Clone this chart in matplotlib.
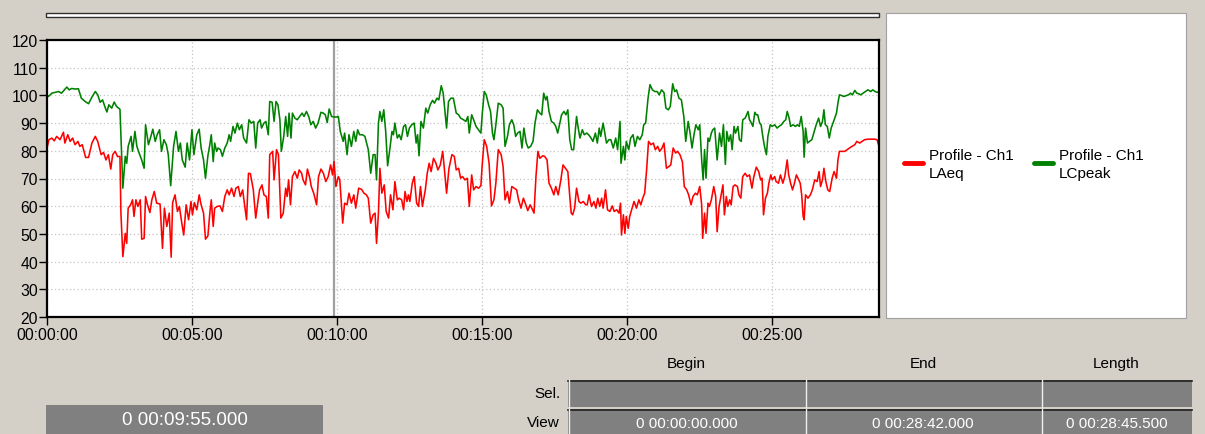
import matplotlib
matplotlib.use('Agg')
import matplotlib.pyplot as plt
from matplotlib.patches import Rectangle
from matplotlib.lines import Line2D

plt.rcParams['font.family'] = ['Liberation Sans', 'DejaVu Sans']

# ---------------- data ----------------
x_ticks_s = [0, 300, 600, 900, 1200, 1500]
x_tick_labels = ['00:00:00', '00:05:00', '00:10:00', '00:15:00', '00:20:00', '00:25:00']
y_ticks = [20, 30, 40, 50, 60, 70, 80, 90, 100, 110, 120]
view_end_s = 1722
cursor_s = 595

series_names = ['Profile - Ch1\nLAeq', 'Profile - Ch1\nLCpeak']

lcpeak_t = [0, 3, 10, 17, 24, 30, 36, 41, 46, 51, 58, 65, 71, 79, 86, 93, 100, 105, 110, 115, 120, 124, 128, 134, 139, 144,
            151, 155, 157, 162, 165, 168, 174, 177, 182, 186, 191, 196, 201, 204, 210, 215, 219, 224, 228, 233, 237, 242, 247,
            251, 256, 262, 267, 272, 276, 280, 286, 290, 295, 300, 304, 310, 315, 319, 324, 328, 333,
            337, 340, 344, 347, 351, 354, 359, 363, 368, 373, 377, 380, 385, 389, 394, 398, 403, 407, 413, 418, 423, 428, 432,
            436, 441, 444, 449, 453, 458, 461, 466, 470, 474, 478, 482, 485, 490, 494, 498, 501, 505, 508, 513, 518, 523, 528,
            532, 537, 542, 546, 551, 556, 561, 567, 572, 576, 580, 584, 589, 594, 599, 603, 607, 613, 616, 621, 625, 630, 635,
            639, 643, 647, 653, 658, 665, 670, 675,
            679, 682, 686, 689, 693, 697, 701, 705, 709, 714, 717, 720, 725, 729, 733, 738, 742, 746, 750, 755, 760, 764, 767,
            770, 774, 779, 784, 788, 793, 798, 802, 807, 811, 816, 820, 824, 827, 831, 836, 841, 847, 852, 856, 862, 867, 871,
            874, 879, 883, 888, 893, 898, 901, 905, 909, 914, 918, 922, 925, 929, 934, 940, 944, 948, 953, 957, 962, 966, 970,
            974, 979, 983, 987, 992, 996, 1001, 1006, 1010, 1015,
            1020, 1024, 1028, 1032, 1035, 1039, 1044, 1049, 1053, 1057, 1060, 1065, 1070, 1074, 1078, 1082, 1086, 1090, 1096,
            1099, 1103, 1108, 1112, 1117, 1121, 1126, 1130, 1135, 1139, 1143, 1146, 1151, 1155, 1158, 1163, 1167, 1172, 1177,
            1181, 1186, 1188, 1193, 1196, 1199, 1204, 1208, 1213, 1217, 1222, 1227, 1232, 1235, 1239, 1244, 1248, 1253, 1258,
            1263, 1267, 1272, 1277, 1281, 1286, 1290, 1295, 1299, 1303, 1308, 1313, 1318, 1322, 1327, 1331, 1335, 1339, 1343,
            1348, 1351, 1355, 1358,
            1361, 1364, 1368, 1371, 1375, 1378, 1382, 1387, 1392, 1396, 1400, 1404, 1407, 1411, 1415, 1418, 1422, 1425, 1430,
            1433, 1437, 1440, 1445, 1451, 1454, 1458, 1461, 1465, 1468, 1471, 1475, 1478, 1482, 1485, 1489, 1492, 1497, 1501,
            1506, 1511, 1515, 1520, 1525, 1529, 1532, 1536, 1539, 1544, 1549, 1553, 1557, 1561, 1565, 1567, 1570, 1574, 1578,
            1583, 1587, 1592, 1597, 1601, 1605, 1608, 1611, 1615, 1619, 1623, 1628, 1634, 1637, 1640, 1644, 1649, 1654, 1659,
            1663, 1667, 1672, 1676, 1680, 1684, 1689, 1694, 1699, 1705, 1709, 1714, 1718, 1721]
lcpeak_db = [100.2, 99.6, 100.8, 101.1, 101.4, 100.8, 102, 103, 102, 102.5, 102.3, 102.4, 99, 97.8, 97, 99.4, 101.4, 100.2,
             97.5, 98.4, 95.8, 94, 96.6, 95.4, 97.6, 96, 95, 76.7, 66.5, 78, 75.5, 81.6, 85.2, 79.8, 87, 81.6, 79, 76.7, 73.7,
             89.4, 82.2, 85.2, 87.8, 83.4, 85.8, 87.6, 79.8, 84, 82.2, 78.6, 67.4, 81.6, 87, 79.8, 82.8, 76.7, 74.1, 82.8, 76.7,
             87.6, 78.6, 85.8, 87.8, 81, 76.7, 70.1, 78.2,
             82.2, 85.8, 76.1, 82.8, 79.8, 81, 80.4, 78, 81, 82.8, 85.8, 83.4, 88.8, 86.4, 90, 87.6, 89.4, 84.6, 82.8, 91.2, 90,
             90.6, 81, 90, 91.2, 88.2, 90, 90.6, 85.8, 97.8, 97.5, 90.6, 97.8, 96.6, 91.2, 79.8, 85.2, 92.4, 85.2, 93.6, 84.6,
             93.6, 91.8, 91.2, 92.4, 93.6, 92.4, 94.2, 92.2, 89.4, 90.6, 88.2, 90, 93.9, 93.6, 93, 90.2, 95.1, 92.4, 92.2, 92.2,
             92.4, 87, 83.4, 86.4, 78.6, 85.8, 81.6, 87, 83.4, 87.6, 85.8, 85.8, 85.2, 80.4, 71.9, 78.6,
             78.6, 69.5, 90, 94.2, 90.6, 94.8, 87, 74.6, 79.8, 87, 85.8, 90, 84.6, 85.8, 84, 88.8, 89.4, 85.2, 88.2, 89.4, 90,
             82.8, 85.8, 78.2, 90.6, 88.2, 95.4, 93.6, 96.6, 98.2, 97.2, 99, 98.4, 103.5, 100.8, 93.6, 88.2, 97.8, 99, 99, 93.6,
             93, 91.8, 91.2, 90.6, 92.4, 86.4, 93, 91.2, 88.8, 87.6, 86.4, 93.6, 101.4, 100.2, 96.6, 94.2, 86.4, 84, 89.4, 97.2,
             96.6, 95.4, 81.6, 85.2, 89.4, 91.2, 89.4, 85.2, 86.4, 87, 81, 88.2, 82.8, 81, 81.6, 83.4, 90, 94.8,
             93.6, 93, 100.8, 98.4, 99.6, 94.2, 90.6, 90, 88.8, 86.4, 88.8, 93, 94.2, 93, 94.8, 84, 80.4, 80.4, 92.4, 88.8,
             84.6, 87.6, 85.8, 86.4, 85.8, 84.6, 83.4, 86.4, 82.8, 88.2, 85.2, 90, 85.8, 82.8, 84, 84, 81, 84.6, 80.4, 90.6,
             75.5, 81.6, 76.7, 83.4, 80.4, 84.6, 85.8, 81.6, 85.2, 84, 85.8, 89.4, 90, 99, 103.9, 102, 101.4, 101.4, 100.2, 102,
             101, 95.4, 94.8, 96, 104.2, 101.4, 102, 99, 98.4, 92.4, 83.4, 90.6, 86.4, 81, 85.8, 89.4, 87.6, 89.4, 76.7, 69.5,
             80.4, 70.1, 84.6, 83.4, 86.4, 87.6, 88.2, 76.7, 86.4, 81.6, 89.4, 75.1, 87, 83.4, 85.8, 80.4, 88.8, 86.4, 88.8, 84,
             83.4, 91.2, 91.8, 94.2, 91.2, 90, 88.8, 93.9, 93, 93, 90, 89.4, 84.6, 81.6, 78.6, 85.2, 89.4, 88.8, 89.4, 88.2,
             88.8, 89.4, 90.6, 91.2, 94.2, 91.8, 88.8, 89.4, 88.8, 89.4, 88.8, 92.4, 87, 77.7, 88.2, 82.8, 83.4, 84, 86.4, 89.4,
             91.8, 88.8, 90.6, 94.8, 89.4, 88.8, 84.6, 88.2, 90.6, 93.6, 97.2, 100.2, 100, 99.6, 99.9, 100.2, 100.8, 100.2,
             101.8, 100.8, 100.6, 100.2, 100.8, 101.4, 102, 101.4, 102, 101.4, 101.1, 101.3]

laeq_t = [0, 4, 10, 15, 20, 27, 34, 37, 43, 48, 53, 58, 64, 68, 73, 80, 86, 93, 100, 105, 112, 117, 122, 127, 132, 136, 141,
          146, 151, 153, 157, 162, 165, 168, 173, 177, 180, 184, 188, 193, 196, 201, 204, 208, 213, 217, 222, 227, 234, 239,
          243, 248, 253, 257, 260, 265, 270, 274, 279, 283, 288, 293, 298, 301, 305, 310, 315, 319, 324, 328, 333,
          337, 340, 344, 347, 352, 358, 363, 368, 373, 377, 382, 387, 391, 396, 400, 405, 408, 413, 417, 421, 427, 432, 437,
          440, 445, 449, 454, 458, 461, 467, 470, 475, 479, 484, 489, 494, 497, 500, 504, 508, 513, 518, 522, 527, 530, 535,
          539, 544, 547, 552, 558, 562, 567, 572, 577, 582, 587, 591, 594, 598, 603, 606, 612, 616, 621, 625, 630, 635, 639,
          645, 651, 656, 661, 665, 670, 675,
          679, 682, 686, 689, 693, 698, 702, 707, 711, 716, 720, 725, 729, 734, 738, 741, 745, 748, 751, 756, 760, 765, 769,
          773, 777, 783, 787, 791, 795, 800, 805, 809, 814, 819, 822, 827, 832, 838, 843, 847, 852, 856, 860, 865, 870, 874,
          879, 883, 888, 893, 898, 901, 905, 910, 915, 920, 925, 929, 934, 940, 944, 948, 953, 957, 962, 967, 972, 976, 981,
          986, 991, 995, 1000, 1005, 1008, 1012, 1016,
          1020, 1026, 1030, 1035, 1039, 1044, 1049, 1053, 1058, 1063, 1068, 1073, 1078, 1082, 1085, 1088, 1092, 1096, 1101,
          1105, 1110, 1115, 1118, 1122, 1127, 1132, 1136, 1140, 1144, 1148, 1151, 1156, 1160, 1165, 1170, 1174, 1179, 1184,
          1187, 1189, 1193, 1196, 1199, 1203, 1206, 1210, 1215, 1220, 1225, 1229, 1233, 1237, 1241, 1245, 1250, 1255, 1259,
          1264, 1268, 1273, 1277, 1282, 1287, 1291, 1296, 1301, 1305, 1310, 1315, 1319, 1324, 1328, 1333, 1337, 1342, 1346,
          1351, 1355, 1357,
          1361, 1364, 1368, 1371, 1375, 1380, 1384, 1387, 1391, 1396, 1399, 1402, 1406, 1409, 1413, 1416, 1420, 1424, 1429,
          1432, 1436, 1440, 1445, 1449, 1454, 1459, 1463, 1468, 1473, 1477, 1480, 1483, 1487, 1491, 1494, 1498, 1501, 1506,
          1509, 1514, 1518, 1523, 1527, 1532, 1535, 1539, 1543, 1547, 1551, 1556, 1559, 1562, 1565, 1567, 1570, 1575, 1580,
          1584, 1589, 1594, 1598, 1601, 1605, 1608, 1612, 1616, 1620, 1625, 1629, 1634, 1637, 1640, 1645, 1651, 1656, 1661,
          1666, 1672, 1676, 1682, 1687, 1692, 1699, 1706, 1713, 1718, 1721]
laeq_db = [81, 84, 84.6, 83.6, 85.2, 84, 86.7, 82.8, 85.8, 83.4, 84.6, 82.2, 83.4, 81.6, 82.2, 77.6, 77.6, 82.8, 85.2, 83.4,
           78.6, 79.4, 76.7, 78.6, 73.4, 78.6, 79.8, 77.9, 78, 57.5, 41.8, 50.2, 46.6, 59.3, 60.5, 62.3, 56.3, 62.3, 59.9,
           62.3, 48.1, 48.4, 63.5, 60.5, 57.7, 62.3, 65.3, 61.1, 60.8, 44.8, 59.3, 52.7, 57.5, 41.6, 61.3, 64.1, 58.1, 59.9,
           53.9, 49.6, 60.5, 55.1, 61.7, 56.9, 61.3, 58.7, 64.1, 60.5, 57.5, 48.1, 49.3,
           57.5, 62.3, 52.7, 59.3, 59.9, 60.1, 58.1, 63.5, 65.9, 64.1, 66.5, 63.5, 66.5, 67.1, 63.5, 65.9, 61.7, 55.1, 71.9,
           71.7, 65.9, 55.7, 62.3, 65.9, 67.7, 64.1, 63.5, 55.7, 78.6, 79.8, 69.5, 80.4, 78.6, 55.7, 57.5, 66.5, 63.5, 69.5,
           60.5, 70.7, 72.5, 70.1, 73.1, 71.9, 69.5, 67.7, 73.4, 70.1, 67.1, 64.7, 60.5, 70.7, 73.4, 71.9, 68.9, 70.7, 74.9,
           71.3, 76.1, 67.1, 70.7, 69.5, 53.9, 61.1, 60.5, 64.7, 61.1, 64.1, 59.3, 66.5, 66.1, 64.7, 64.1, 62.9, 53.9, 56.9,
           57.5, 46.6, 57.5, 73.7, 64.7, 67.7, 58.1, 55.7, 64.1, 58.7, 68.9, 62.3, 62.9, 62.3, 58.7, 65.3, 61.7, 64.1, 61.7,
           68.3, 70.7, 61.1, 59.9, 67.1, 59.9, 65.9, 71.9, 75.5, 72.5, 77.3, 75.5, 73.1, 74.9, 79.8, 74.3, 64.7, 73.7, 78.6,
           78, 73.1, 73.7, 70.1, 70.7, 69.5, 70.1, 59.9, 71.3, 65.9, 67.1, 66.5, 67.4, 75.5, 84, 81.6, 75.5, 60.1, 62.3, 68.3,
           80.4, 78.6, 74.3, 62.3, 65.3, 61.1, 67.1, 66.5, 65.9, 62.3, 59.3, 62.9, 60.5, 58.4, 60.5, 58.7, 57.5, 70.7, 79.8,
           77.3, 78.2, 78, 76.7, 68.3, 66.5, 64.1, 67.1, 64.1, 68.9, 74.9, 73.7, 72.5, 63.5, 57.5, 56.9, 59.3, 66.5, 61.7,
           61.1, 61.7, 60.5, 60.5, 64.1, 59.9, 61.7, 59.3, 62.9, 59.9, 62.9, 59.3, 65.9, 58.7, 58.1, 60.1, 58.1, 58.7, 57.5,
           61.1, 49.6, 56.9, 50.2, 56.3, 52, 56.3, 58.7, 61.7, 59.3, 62.3, 60.5, 62.9, 64.7, 73.1, 83.4, 82.2, 82.8, 80.4,
           81.6, 79.8, 81, 82.8, 73.7, 74.3, 74.9, 81, 79.2, 79.8, 78.6, 76.1, 67.1, 65.9, 64.1, 60.5, 63.5, 64.7, 64.1,
           67.1, 60.5, 48.4,
           57.5, 50.2, 61.1, 59.9, 62.3, 67.1, 63.5, 50.8, 59.9, 64.7, 67.7, 56.9, 63.5, 59.9, 62.3, 60.5, 67.1, 67.7, 67.1,
           64.1, 62.9, 70.7, 71.9, 70.7, 71.3, 66.5, 70.7, 74.1, 72.5, 69.5, 70.1, 56.9, 62.9, 64.7, 68.3, 71.3, 69.5, 70.7,
           68.9, 68.3, 71.3, 68.3, 70.7, 76.7, 71.3, 68.3, 65.9, 68.3, 71.3, 69.5, 68.3, 64.1, 56.3, 55.1, 64.1, 62.9, 64.1,
           65.9, 69.5, 68.9, 72.5, 67.1, 69.5, 73.7, 68.9, 65.9, 65.3, 70.1, 72.5, 70.1, 76.7, 79.8, 79.8, 79.8, 80.4, 81,
           81.6, 82.2, 83.4, 82.8, 83.4, 84, 84.2, 84.2, 84.2, 84, 82.2]

table_cols = ['Begin', 'End', 'Length']
table_rows = ['Sel.', 'View']
sel_values = ['', '', '']
view_values = ['0 00:00:00.000', '0 00:28:42.000', '0 00:28:45.500']
cursor_text = '0 00:09:55.000'

# ---------------- figure ----------------
W, H = 1205, 435
BG = '#d4d0c8'
fig = plt.figure(figsize=(W / 100, H / 100), dpi=100, facecolor=BG)


def fx(x):
    return x / W


def fy(y):
    return 1 - y / H


def frect(x0, y0, x1, y1, **kw):
    fig.patches.append(Rectangle((fx(x0), fy(y1)), fx(x1) - fx(x0), fy(y0) - fy(y1),
                                 transform=fig.transFigure, **kw))


def fline(xs, ys, **kw):
    fig.lines.append(Line2D([fx(v) for v in xs], [fy(v) for v in ys], transform=fig.transFigure, **kw))


# top scroll bar
frect(46, 13.5, 879, 17.5, facecolor='white', edgecolor='#303030', lw=1)

# main axes
ax = fig.add_axes([fx(47), fy(318), fx(879) - fx(47), fy(41) - fy(318)])
ax.set_facecolor('white')
ax.grid(True, color='#c4c4c4', linestyle=(0, (1, 2)), lw=0.9)
ax.set_axisbelow(True)
ax.axvline(cursor_s, color='#a0a0a0', lw=1.6, zorder=1.5)
ax.plot(lcpeak_t, lcpeak_db, color='#008000', lw=1.15, zorder=2)
ax.plot(laeq_t, laeq_db, color='#ff0000', lw=1.15, zorder=2)
ax.set_xlim(0, view_end_s)
ax.set_ylim(20, 120)
ax.set_xticks(x_ticks_s)
ax.set_xticklabels(x_tick_labels)
ax.set_yticks(y_ticks)
for s in ax.spines.values():
    s.set_linewidth(1.6)
    s.set_color('black')
ax.tick_params(axis='both', direction='out', length=6, width=1, labelsize=11.3, colors='black')
ax.tick_params(axis='y', pad=0.5)
ax.tick_params(axis='x', pad=1.5)

# legend panel
frect(886, 14, 1186, 319, facecolor='white', edgecolor='#a0a0a0', lw=0.8)
colors = ['#ff0000', '#008000']
leg_x = [904, 1034]
for name, c, x0 in zip(series_names, colors, leg_x):
    fline([x0, x0 + 19], [164, 164], color=c, lw=3.5, solid_capstyle='round')
    fig.text(fx(x0 + 25), fy(165), name, fontsize=11, color='black', va='center', ha='left',
             linespacing=1.35)

# cursor time box
frect(46, 406, 323, 437, facecolor='#808080', edgecolor='none')
fig.text(fx(184.5), fy(421), cursor_text, fontsize=13.5, color='white', ha='center', va='center')

# selection / view table
col_edges = [568, 805, 1041, 1192]
row_edges = [(381, 408), (410, 437)]
for i, name in enumerate(table_cols):
    xc = (col_edges[i] + col_edges[i + 1]) / 2
    fig.text(fx(xc), fy(364), name, fontsize=11, color='black', ha='center', va='center')
for (y0, y1), rname, vals in zip(row_edges, table_rows, [sel_values, view_values]):
    fig.text(fx(560), fy((y0 + y1) / 2), rname, fontsize=11, color='black', ha='right', va='center')
    for i, v in enumerate(vals):
        frect(col_edges[i], y0, col_edges[i + 1], y1, facecolor='#808080', edgecolor='none')
        fline([col_edges[i], col_edges[i + 1]], [y0 + 0.5, y0 + 0.5], color='#202020', lw=1.2)
        fline([col_edges[i] + 0.5, col_edges[i] + 0.5], [y0, y1], color='#f0f0f0', lw=1)
        if v:
            fig.text(fx((col_edges[i] + col_edges[i + 1]) / 2), fy((y0 + y1) / 2 + 0.5), v,
                     fontsize=11, color='white', ha='center', va='center')

fig.savefig('out.png', dpi=100, facecolor=BG)
